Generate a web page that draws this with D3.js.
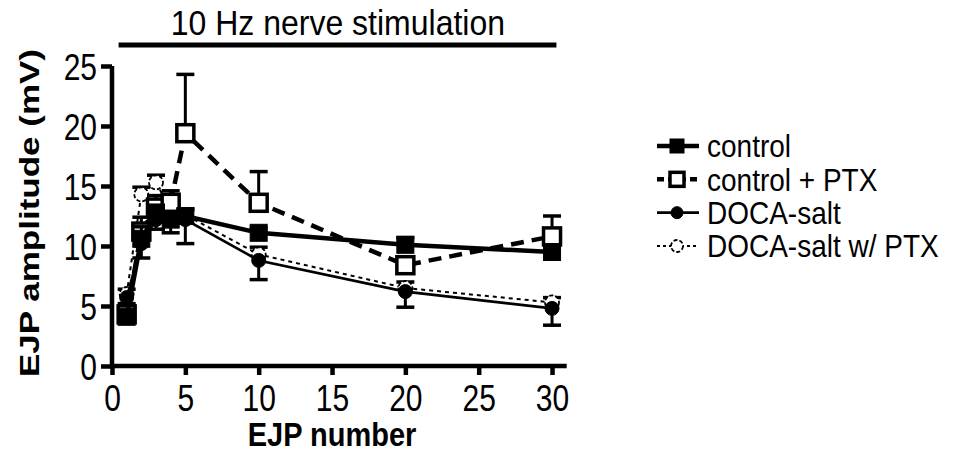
<!DOCTYPE html>
<html>
<head>
<meta charset="utf-8">
<script src="https://cdn.jsdelivr.net/npm/d3@7"></script>
<style>
  body { margin: 0; background: #fff; }
  svg { display: block; font-family: "Liberation Sans", Arial, sans-serif; }
</style>
</head>
<body>
<div id="chart"></div>
<script>
// EJP number on the x axis
var ejpNumbers = [1, 2, 3, 4, 5, 10, 20, 30];

// mean EJP amplitude (mV) for each group
var controlMean = [4.1, 10.6, 12.6, 12.2, 12.5, 11.1, 10.1, 9.5];
var controlPtxMean = [4.3, 11.2, 13.2, 13.6, 19.4, 13.6, 8.4, 10.8];
var docaMean = [5.7, 10.2, 12.2, 12.1, 12.2, 8.8, 6.2, 4.8];
var docaPtxMean = [6.0, 14.3, 15.3, 13.0, 12.6, 9.3, 6.5, 5.3];

// SEM, drawn in one direction only (as in the original)
var controlErr = [0.3, 1.0, 0.8, 0.6, 0.5, 0.4, 0.6, 0.4];
var controlPtxErr = [0.4, 1.2, 1.0, 1.0, 4.9, 2.6, 0.5, 1.7];
var docaErr = [0.5, 1.2, 0.8, 1.0, 2.0, 1.6, 1.3, 1.4];
var docaPtxErr = [0.4, 0.6, 0.6, 0.5, 0.5, 0.6, 0.5, 0.4];

var xTicks = [0, 5, 10, 15, 20, 25, 30];
var yTicks = [0, 5, 10, 15, 20, 25];

var seriesNames = ["control", "control + PTX", "DOCA-salt", "DOCA-salt w/ PTX"];

var W = 953, H = 457;
var STRETCH = 1.2; // the original figure's lettering is taller than it is wide

var svg = d3.select("#chart").append("svg")
  .attr("width", W)
  .attr("height", H);

var x = d3.scaleLinear().domain([0, 31]).range([112, 566.7]);
var y = d3.scaleLinear().domain([0, 25]).range([366, 66]);

// series styling
var series = [
  {name: seriesNames[0], mean: controlMean, err: controlErr, dir: 1,
   width: 4.5, dash: null, shape: "square", fill: "#000", size: 17},
  {name: seriesNames[1], mean: controlPtxMean, err: controlPtxErr, dir: 1,
   width: 4.5, dash: "13,8", shape: "square", fill: "#fff", size: 17},
  {name: seriesNames[2], mean: docaMean, err: docaErr, dir: -1,
   width: 2.6, dash: null, shape: "circle", fill: "#000", size: 14},
  {name: seriesNames[3], mean: docaPtxMean, err: docaPtxErr, dir: 1,
   width: 2, dash: "4,4", shape: "circle", fill: "#fff", size: 14}
];

// text drawn with a vertical stretch about its anchor point
function label(parent, tx, ty, str, size, weight, anchor, sy) {
  var g = parent.append("g")
    .attr("transform", "translate(" + tx + "," + ty + ") scale(1," + (sy || STRETCH) + ")");
  return g.append("text")
    .attr("text-anchor", anchor || "start")
    .style("font-size", size + "px")
    .style("font-weight", weight || "normal")
    .text(str);
}

// axes
var xAxis = svg.append("g")
  .attr("transform", "translate(0," + y(0) + ")")
  .call(d3.axisBottom(x).tickValues(xTicks).tickSize(9));
var yAxis = svg.append("g")
  .attr("transform", "translate(" + x(0) + ",0)")
  .call(d3.axisLeft(y).tickValues(yTicks).tickSize(11).tickPadding(4));

[xAxis, yAxis].forEach(function(g) {
  g.select(".domain").attr("stroke", "#000").attr("stroke-width", 4.5);
  g.selectAll(".tick line").attr("stroke", "#000").attr("stroke-width", 4.5);
  g.selectAll(".tick text")
    .attr("fill", "#000")
    .attr("transform", "scale(1," + 1.22 + ")")
    .style("font-size", "30px")
    .style("font-family", "'Liberation Sans', Arial, sans-serif");
});
// domains: trim the outer tick stubs d3 adds
xAxis.select(".domain").attr("d", "M" + x(0) + ",0H" + x(31));
yAxis.select(".domain").attr("d", "M0," + y(0) + "V" + y(25));
xAxis.selectAll(".tick text").attr("y", 32 / 1.22).attr("dy", "0.36em");
yAxis.selectAll(".tick text").attr("dy", "0.36em");

// axis titles
label(svg, x(15), 446, "EJP number", 29, "bold", "middle", 1.15);

svg.append("g")
  .attr("transform", "translate(39,213) rotate(-90) scale(1.25,1)")
  .append("text")
  .attr("text-anchor", "middle")
  .style("font-size", "28px")
  .style("font-weight", "bold")
  .text("EJP amplitude (mV)");

// stimulation bar
svg.append("line")
  .attr("x1", x(0.45)).attr("x2", x(30.3))
  .attr("y1", 45).attr("y2", 45)
  .attr("stroke", "#000").attr("stroke-width", 5);
label(svg, x(15.4), 35, "10 Hz nerve stimulation", 32, "normal", "middle", 1.1);

var line = d3.line()
  .x(function(d) { return x(d.n); })
  .y(function(d) { return y(d.v); });

function drawMarker(g, s, cx, cy) {
  if (s.shape === "square") {
    g.append("rect")
      .attr("x", cx - s.size / 2).attr("y", cy - s.size / 2)
      .attr("width", s.size).attr("height", s.size)
      .attr("fill", s.fill).attr("stroke", "#000")
      .attr("stroke-width", s.fill === "#000" ? 1 : 3.5);
  } else {
    g.append("circle")
      .attr("cx", cx).attr("cy", cy).attr("r", s.size / 2)
      .attr("fill", s.fill).attr("stroke", "#000")
      .attr("stroke-width", s.fill === "#000" ? 1 : 1.8)
      .attr("stroke-dasharray", s.fill === "#000" ? null : "4,2");
  }
}

// draw back to front: DOCA w/ PTX, DOCA, control + PTX, control
[3, 2, 1, 0].forEach(function(i) {
  var s = series[i];
  var data = ejpNumbers.map(function(n, k) {
    return {n: n, v: s.mean[k], e: s.err[k]};
  });
  var g = svg.append("g");

  // error bars
  data.forEach(function(d) {
    var yEnd = y(d.v + s.dir * d.e);
    g.append("line")
      .attr("x1", x(d.n)).attr("x2", x(d.n))
      .attr("y1", y(d.v)).attr("y2", yEnd)
      .attr("stroke", "#000").attr("stroke-width", 3);
    g.append("line")
      .attr("x1", x(d.n) - 9).attr("x2", x(d.n) + 9)
      .attr("y1", yEnd).attr("y2", yEnd)
      .attr("stroke", "#000").attr("stroke-width", 3.5);
  });

  g.append("path")
    .datum(data)
    .attr("fill", "none")
    .attr("stroke", "#000")
    .attr("stroke-width", s.width)
    .attr("stroke-dasharray", s.dash)
    .attr("d", line);

  data.forEach(function(d) {
    drawMarker(g, s, x(d.n), y(d.v));
  });
});

// legend
var legendY = d3.scalePoint().domain(seriesNames).range([146, 246]);
var legend = svg.append("g");
series.forEach(function(s) {
  var ly = legendY(s.name);
  legend.append("line")
    .attr("x1", 657).attr("x2", 699)
    .attr("y1", ly).attr("y2", ly)
    .attr("stroke", "#000")
    .attr("stroke-width", s.width)
    .attr("stroke-dasharray", s.dash ? (s.shape === "square" ? "7,4" : "3,3") : null);
  drawMarker(legend, {shape: s.shape, fill: s.fill,
    size: s.shape === "square" ? 14 : 12}, 677, ly);
  label(legend, 707, ly, s.name, 28, "normal", "start", 1.12)
    .attr("dy", "0.36em");
});
</script>
</body>
</html>
